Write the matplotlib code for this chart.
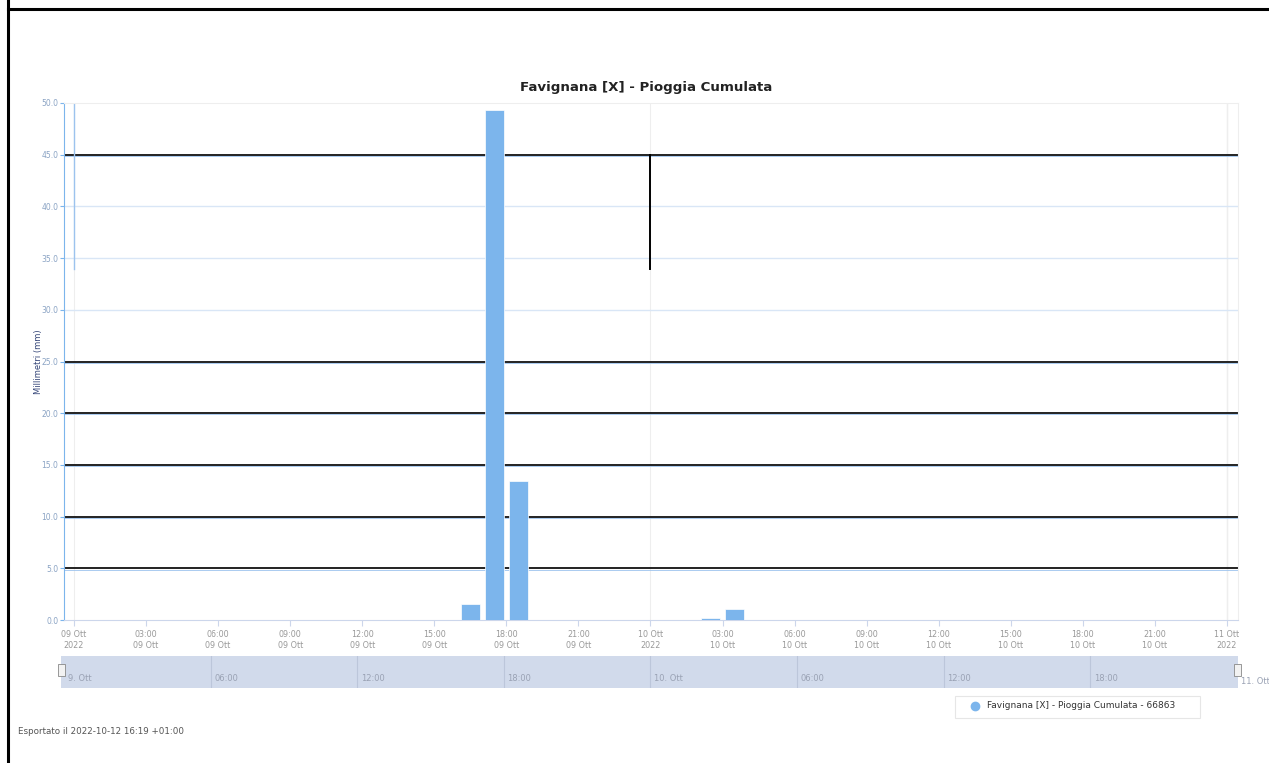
import matplotlib.pyplot as plt
from matplotlib.lines import Line2D
from matplotlib.patches import Rectangle
import numpy as np

# hours since 09 Ott 2022 00:00 (bar centres) and rainfall in mm
ore = [16.5, 17.5, 18.5, 26.5, 27.5]
pioggia = [1.5, 49.3, 13.4, 0.2, 1.1]

tick_ore = [0, 3, 6, 9, 12, 15, 18, 21, 24, 27, 30, 33, 36, 39, 42, 45, 48]
tick_labels = ["09 Ott\n2022", "03:00\n09 Ott", "06:00\n09 Ott", "09:00\n09 Ott",
               "12:00\n09 Ott", "15:00\n09 Ott", "18:00\n09 Ott", "21:00\n09 Ott",
               "10 Ott\n2022", "03:00\n10 Ott", "06:00\n10 Ott", "09:00\n10 Ott",
               "12:00\n10 Ott", "15:00\n10 Ott", "18:00\n10 Ott", "21:00\n10 Ott",
               "11 Ott\n2022"]
y_ticks = [0, 5, 10, 15, 20, 25, 30, 35, 40, 45, 50]
righe_nere = [45, 25, 20, 15, 10, 5]
righe_chiare = [40, 35, 30]

nav_ore = [0, 6, 12, 18, 24, 30, 36, 42, 48]
nav_labels = ["9. Ott", "06:00", "12:00", "18:00", "10. Ott", "06:00", "12:00", "18:00", "11. Ott"]

W, H = 1269, 763
fig = plt.figure(figsize=(W / 100, H / 100), dpi=100)

x0, x1 = -10 / 24.02, (1238 - 74) / 24.02
ax = fig.add_axes([64 / W, 1 - 620 / H, (1238 - 64) / W, (620 - 103) / H])
ax.set_xlim(x0, x1)
ax.set_ylim(0, 50)

# grid
for v in [0, 24, 48]:
    ax.axvline(v, color="#eeeeee", lw=0.8, zorder=0)
for y in righe_chiare:
    ax.axhline(y, color="#d9e6f6", lw=1, zorder=1)
for y in righe_nere:
    ax.axhline(y, color="#222222", lw=1.4, zorder=1)
    ax.axhline(y - 0.12, color="#9cc3ee", lw=0.6, zorder=1)
ax.plot([0, 0], [50, 33.9], color="#9cc3ee", lw=1, zorder=1)
ax.plot([24, 24], [45, 33.9], color="black", lw=1.4, zorder=1)
ax.axvline(x1 - 11 / 24.02, color="#eeeeee", lw=1, zorder=0)

ax.bar(ore, pioggia, width=0.8, color="#7cb5ec", edgecolor="white", linewidth=0.5, zorder=3)

for s in ["top", "right"]:
    ax.spines[s].set_color("#eeeeee")
ax.spines["left"].set_color("#7cb5ec")
ax.spines["bottom"].set_color("#ccd6eb")

ax.set_yticks(y_ticks)
ax.set_yticklabels([f"{v:.1f}" for v in y_ticks], fontsize=5.5, color="#8aa3c4")
ax.tick_params(axis="y", length=3, color="#7cb5ec", pad=1)
ax.set_xticks(tick_ore)
ax.set_xticklabels(tick_labels, fontsize=5.8, color="#999999", linespacing=1.3)
ax.tick_params(axis="x", length=4, color="#ccd6eb", pad=3)
ax.set_ylabel("Millimetri (mm)", fontsize=6, color="#334477", labelpad=-1)

fig.text(646 / W, 1 - 87 / H, "Favignana [X] - Pioggia Cumulata", ha="center", va="center",
         fontsize=9.6, fontweight="bold", color="#222222")

# navigator
nav = fig.add_axes([61 / W, 1 - 688 / H, (1238 - 61) / W, 32 / H])
nav.set_xlim(-0.12, 48.05)
nav.set_ylim(0, 1)
nav.set_facecolor("#d1daeb")
for s in nav.spines.values():
    s.set_visible(False)
nav.set_xticks([])
nav.set_yticks([])
for h, lab in zip(nav_ore, nav_labels):
    if 0 < h < 48:
        nav.axvline(h, color="#bcc6da", lw=0.8)
    if h < 48:
        nav.text(h + 0.15, 0.3, lab, fontsize=6, color="#9aa2b4", va="center")
fig.text(1241 / W, 1 - 681 / H, nav_labels[-1], fontsize=6, color="#9aa2b4", va="center")
for hx in [61, 1237]:
    fig.patches.append(Rectangle(((hx - 3) / W, 1 - 676 / H), 7 / W, 12 / H,
                                 transform=fig.transFigure, facecolor="#f2f2f2",
                                 edgecolor="#888888", lw=0.6))

# legend
fig.patches.append(Rectangle((955 / W, 1 - 718 / H), 245 / W, 22 / H, transform=fig.transFigure,
                             facecolor="white", edgecolor="#e6e6e6", lw=0.8))
fig.add_artist(Line2D([975 / W], [1 - 706 / H], marker="o", color="#7cb5ec", markersize=6,
                      transform=fig.transFigure))
fig.text(987 / W, 1 - 706 / H, "Favignana [X] - Pioggia Cumulata - 66863", fontsize=6.5,
         color="#333333", va="center")

fig.text(18 / W, 1 - 731 / H, "Esportato il 2022-10-12 16:19 +01:00", fontsize=6.3,
         color="#555555", va="center")

# page border
fig.add_artist(Line2D([8 / W, 8 / W], [0, 1], color="black", lw=2.2))
fig.add_artist(Line2D([8 / W, 1], [1 - 9 / H, 1 - 9 / H], color="black", lw=2.2))

fig.savefig("out.png", dpi=100)
